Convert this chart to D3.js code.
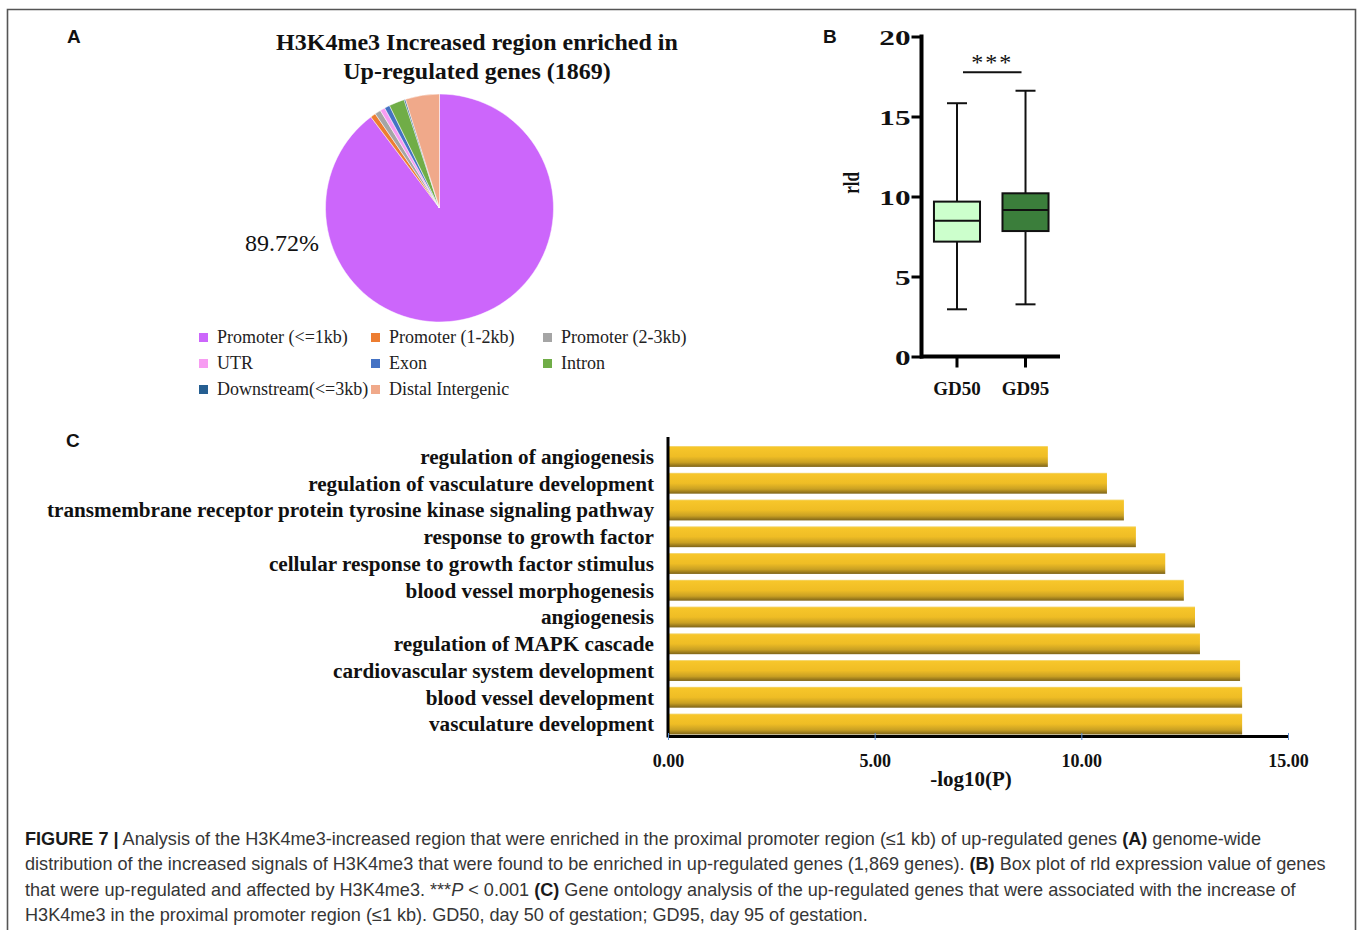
<!DOCTYPE html>
<html>
<head>
<meta charset="utf-8">
<script src="https://cdn.jsdelivr.net/npm/d3@7"></script>
<style>
  html, body { margin: 0; padding: 0; background: #fff; }
  svg { display: block; }
</style>
</head>
<body>
<svg id="fig" width="1358" height="930"></svg>
<script>
// ---- Panel A: genomic distribution of increased H3K4me3 signal ----
const pieCategories = [
  "Promoter (<=1kb)", "Promoter (1-2kb)", "Promoter (2-3kb)",
  "UTR", "Exon", "Intron",
  "Downstream(<=3kb)", "Distal Intergenic"
];
const pieValues = [89.72, 0.75, 0.85, 0.70, 0.75, 2.20, 0.20, 4.83];
const piePalette = ["#cc66fb", "#ed7d31", "#a5a5a5", "#f79cf2", "#4472c4", "#70ad47", "#255e91", "#f0a98a"];
const pieTitle = ["H3K4me3 Increased region enriched in", "Up-regulated genes (1869)"];

// ---- Panel B: rld expression box plot ----
const boxGroups = ["GD50", "GD95"];
const boxMin    = [2.95, 3.26];
const boxQ1     = [7.18, 7.84];
const boxMedian = [8.49, 9.16];
const boxQ3     = [9.68, 10.20];
const boxMax    = [15.83, 16.61];
const boxTicks  = [0, 5, 10, 15, 20];
const boxFills  = ["#ccffcc", "#3b7e3b"];

// ---- Panel C: GO enrichment ----
const goTerms = [
  "regulation of angiogenesis",
  "regulation of vasculature development",
  "transmembrane receptor protein tyrosine kinase signaling pathway",
  "response to growth factor",
  "cellular response to growth factor stimulus",
  "blood vessel morphogenesis",
  "angiogenesis",
  "regulation of MAPK cascade",
  "cardiovascular system development",
  "blood vessel development",
  "vasculature development"
];
const goValues = [9.19, 10.62, 11.03, 11.32, 12.03, 12.48, 12.75, 12.87, 13.84, 13.89, 13.89];
const goTicks = [0, 5, 10, 15];

const SERIF = "'Liberation Serif','Times New Roman',Times,serif";
const SANS = "'Liberation Sans',Arial,Helvetica,sans-serif";

const svg = d3.select("#fig");

// outer frame
svg.append("path")
  .attr("d", "M7.5,932 V9.5 H1355.5 V932")
  .attr("fill", "none").attr("stroke", "#555").attr("stroke-width", 1.6);

// panel letters
[["A", 67, 43], ["B", 823, 43], ["C", 66, 447]].forEach(([t, x, y]) => {
  svg.append("text").attr("x", x).attr("y", y).text(t)
    .attr("font-family", SANS).attr("font-weight", "bold").attr("font-size", 19).attr("fill", "#111");
});

// ================= Panel A =================
const titleG = svg.append("g").attr("font-family", SERIF).attr("font-weight", "bold")
  .attr("font-size", 24).attr("text-anchor", "middle").attr("fill", "#111");
pieTitle.forEach((t, i) => titleG.append("text").attr("x", 477).attr("y", 50 + i * 29).text(t));

const pieRadius = 114;
const pieG = svg.append("g").attr("transform", "translate(439.5,208)");
const pieArcs = d3.pie().sort(null).value(d => d)(pieValues);
const arcGen = d3.arc().innerRadius(0).outerRadius(pieRadius);
pieG.selectAll("path").data(pieArcs).join("path")
  .attr("d", arcGen)
  .attr("fill", (d, i) => piePalette[i])
  .attr("stroke", "#fff").attr("stroke-width", 0.5);

svg.append("text").attr("x", 319).attr("y", 251).attr("text-anchor", "end")
  .attr("font-family", SERIF).attr("font-size", 24).attr("fill", "#111")
  .text(d3.format(".2f")(pieValues[0]) + "%");

const legendCols = [199, 371, 543];
const legendG = svg.append("g").attr("font-family", SERIF).attr("font-size", 18).attr("fill", "#222");
pieCategories.forEach((c, i) => {
  const cx = legendCols[i % 3];
  const by = 343 + Math.floor(i / 3) * 26;
  legendG.append("rect").attr("x", cx).attr("y", by - 10).attr("width", 9).attr("height", 9)
    .attr("fill", piePalette[i]);
  legendG.append("text").attr("x", cx + 18).attr("y", by).text(c);
});

// ================= Panel B =================
const yBox = d3.scaleLinear().domain([0, 20]).range([356.5, 36.5]);
const xBox = d3.scaleBand().domain(boxGroups).range([923, 1059.5]).paddingInner(0.328).paddingOuter(0.16);
const bw = xBox.bandwidth();

// y axis (labels in a wide bold face)
const yAxisG = svg.append("g").attr("transform", "translate(921.5,0)")
  .call(d3.axisLeft(yBox).tickValues(boxTicks).tickSizeInner(10).tickSizeOuter(0).tickPadding(0));
yAxisG.select(".domain").attr("stroke", "#000").attr("stroke-width", 4)
  .attr("d", `M0,${yBox(20) - 2}V${yBox(0) + 2}`);
yAxisG.selectAll(".tick line").attr("stroke", "#000").attr("stroke-width", 3);
yAxisG.selectAll(".tick text")
  .attr("font-family", SERIF).attr("font-weight", "bold").attr("font-size", 22).attr("fill", "#111")
  .attr("x", -11 / 1.42).attr("dy", "0.36em")
  .attr("transform", "scale(1.42,1)");

// x axis
const xAxisG = svg.append("g").attr("transform", `translate(0,${yBox(0)})`)
  .call(d3.axisBottom(xBox).tickSizeInner(11).tickSizeOuter(0).tickPadding(14));
xAxisG.select(".domain").attr("stroke", "#000").attr("stroke-width", 4)
  .attr("d", "M920,0H1060");
xAxisG.selectAll(".tick line").attr("stroke", "#000").attr("stroke-width", 3);
xAxisG.selectAll(".tick text")
  .attr("font-family", SERIF).attr("font-weight", "bold").attr("font-size", 19).attr("fill", "#111");

// axis title
svg.append("text")
  .attr("transform", "translate(859,183) scale(1.35,1) rotate(-90)")
  .attr("text-anchor", "middle")
  .attr("font-family", SERIF).attr("font-weight", "bold").attr("font-size", 17).attr("fill", "#111")
  .text("rld");

// boxes
const boxG = svg.append("g").attr("stroke", "#111").attr("stroke-width", 2);
boxGroups.forEach((g, i) => {
  const x0 = xBox(g), xc = x0 + bw / 2, cap = 10;
  boxG.append("line").attr("x1", xc).attr("x2", xc).attr("y1", yBox(boxMax[i])).attr("y2", yBox(boxQ3[i]));
  boxG.append("line").attr("x1", xc).attr("x2", xc).attr("y1", yBox(boxQ1[i])).attr("y2", yBox(boxMin[i]));
  boxG.append("line").attr("x1", xc - cap).attr("x2", xc + cap).attr("y1", yBox(boxMax[i])).attr("y2", yBox(boxMax[i]));
  boxG.append("line").attr("x1", xc - cap).attr("x2", xc + cap).attr("y1", yBox(boxMin[i])).attr("y2", yBox(boxMin[i]));
  boxG.append("rect").attr("x", x0).attr("width", bw)
    .attr("y", yBox(boxQ3[i])).attr("height", yBox(boxQ1[i]) - yBox(boxQ3[i]))
    .attr("fill", boxFills[i]);
  boxG.append("line").attr("x1", x0).attr("x2", x0 + bw).attr("y1", yBox(boxMedian[i])).attr("y2", yBox(boxMedian[i]));
});

// significance bracket
const sigY = yBox(17.76);
const sx1 = xBox("GD50") + bw / 2 + 6, sx2 = xBox("GD95") + bw / 2 - 4;
svg.append("line").attr("x1", sx1).attr("x2", sx2).attr("y1", sigY).attr("y2", sigY)
  .attr("stroke", "#111").attr("stroke-width", 2);
svg.append("text").attr("x", (sx1 + sx2) / 2).attr("y", sigY - 2).attr("text-anchor", "middle")
  .attr("font-family", SERIF).attr("font-size", 24).attr("fill", "#111").attr("letter-spacing", 2)
  .text("***");

// ================= Panel C =================
const defs = svg.append("defs");
const grad = defs.append("linearGradient").attr("id", "barGrad")
  .attr("x1", 0).attr("x2", 0).attr("y1", 0).attr("y2", 1);
[[0, "#f3da7c"], [0.07, "#f7c62a"], [0.5, "#efbd25"], [0.78, "#c9a023"], [1, "#7e6419"]]
  .forEach(([o, c]) => grad.append("stop").attr("offset", o).attr("stop-color", c));

const xGo = d3.scaleLinear().domain([0, 15]).range([668, 1288]);
const yGo = d3.scaleBand().domain(goTerms).range([443.1, 737.4]).paddingInner(0.22).paddingOuter(0.11);

svg.append("g").selectAll("rect").data(goTerms).join("rect")
  .attr("x", xGo(0)).attr("y", d => yGo(d))
  .attr("width", (d, i) => xGo(goValues[i]) - xGo(0))
  .attr("height", yGo.bandwidth())
  .attr("fill", "url(#barGrad)");

svg.append("g").attr("font-family", SERIF).attr("font-weight", "bold").attr("font-size", 21.2)
  .attr("text-anchor", "end").attr("fill", "#111")
  .selectAll("text").data(goTerms).join("text")
  .attr("x", 654).attr("y", d => yGo(d) + yGo.bandwidth() / 2).attr("dy", "0.35em")
  .text(d => d);

// y axis line
svg.append("line").attr("x1", 668).attr("x2", 668).attr("y1", 437).attr("y2", 737.5)
  .attr("stroke", "#000").attr("stroke-width", 3);

const goAxisG = svg.append("g").attr("transform", "translate(0,736)")
  .call(d3.axisBottom(xGo).tickValues(goTicks).tickFormat(d3.format(".2f"))
    .tickSizeInner(-3).tickSizeOuter(0).tickPadding(18));
goAxisG.select(".domain").attr("stroke", "#000").attr("stroke-width", 3);
goAxisG.selectAll(".tick line").attr("stroke", "#5b8fd6").attr("stroke-width", 1).attr("y2", 4).attr("y1", -3);
goAxisG.selectAll(".tick text")
  .attr("font-family", SERIF).attr("font-weight", "bold").attr("font-size", 18).attr("fill", "#111");

svg.append("text").attr("x", 971).attr("y", 786).attr("text-anchor", "middle")
  .attr("font-family", SERIF).attr("font-weight", "bold").attr("font-size", 21).attr("fill", "#111")
  .text("-log10(P)");

// ================= Caption =================
const captionLines = [
  [["b", "FIGURE 7 |"], ["", " Analysis of the H3K4me3-increased region that were enriched in the proximal promoter region (\u22641 kb) of up-regulated genes "], ["b", "(A)"], ["", " genome-wide"]],
  [["", "distribution of the increased signals of H3K4me3 that were found to be enriched in up-regulated genes (1,869 genes). "], ["b", "(B)"], ["", " Box plot of rld expression value of genes"]],
  [["", "that were up-regulated and affected by H3K4me3. ***"], ["i", "P"], ["", " < 0.001 "], ["b", "(C)"], ["", " Gene ontology analysis of the up-regulated genes that were associated with the increase of"]],
  [["", "H3K4me3 in the proximal promoter region (\u22641 kb). GD50, day 50 of gestation; GD95, day 95 of gestation."]]
];
const capG = svg.append("g").attr("font-family", SANS).attr("font-size", 18.1).attr("fill", "#363636");
captionLines.forEach((parts, li) => {
  const t = capG.append("text").attr("x", 25).attr("y", 845 + li * 25.3).attr("xml:space", "preserve");
  parts.forEach(([s, str]) => {
    const sp = t.append("tspan").text(str);
    if (s === "b") sp.attr("font-weight", "bold").attr("fill", "#1a1a1a");
    if (s === "i") sp.attr("font-style", "italic");
  });
});
</script>
</body>
</html>
